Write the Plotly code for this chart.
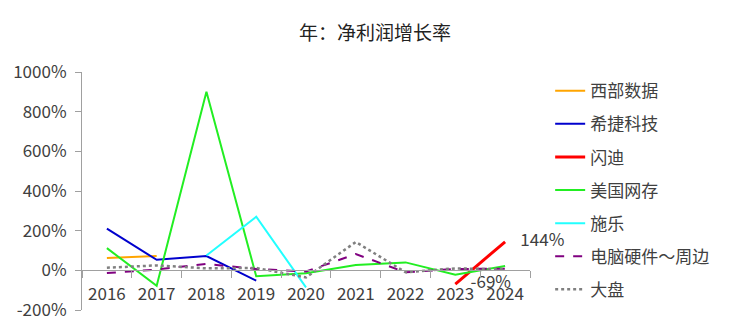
import plotly.graph_objects as go

years = ["2016", "2017", "2018", "2019", "2020", "2021", "2022", "2023", "2024"]

wdc = [62, 72, None, None, None, None, None, None, None]
seagate = [210, 53, 72, -52, None, None, None, None, None]
sandisk = [None, None, None, None, None, None, None, -69, 144]
netapp = [112, -78, 900, -30, -15, 27, 40, -22, 22]
schiller = [None, None, 75, 270, -86, None, None, None, None]
pc_periph = [-14, 4, 32, 7, -6, 82, -10, 7, 8]
market = [13, 25, 10, 12, -36, 143, -10, 10, 5]

y_ticks = [-200, 0, 200, 400, 600, 800, 1000]

series = [
    ("西部数据", wdc, "#FFA500", "solid", 2),
    ("希捷科技", seagate, "#0000CD", "solid", 2),
    ("闪迪", sandisk, "#FF0000", "solid", 3),
    ("美国网存", netapp, "#22EE22", "solid", 2),
    ("施乐", schiller, "#22FFFF", "solid", 2),
    ("电脑硬件～周边", pc_periph, "#800080", "dash", 2),
    ("大盘", market, "#808080", "dot", 2.5),
]

font_family = "Noto Sans CJK SC, Noto Sans, sans-serif"
text_color = "#404040"

fig = go.Figure()
for i, (name, vals, color, dash, w) in enumerate(series):
    fig.add_trace(go.Scatter(
        x=years, y=vals, name=name, mode="lines",
        line=dict(color=color, dash=dash, width=w),
        legendgroup=f"g{i}", connectgaps=False,
    ))

# data labels for 闪迪
fig.add_trace(go.Scatter(
    x=years, y=sandisk, mode="text", showlegend=False, hoverinfo="skip",
    text=[("    " + f"{v}%") if v is not None else "" for v in sandisk],
    textposition="middle right", cliponaxis=False,
    textfont=dict(size=17, color=text_color, family=font_family),
))

fig.update_layout(
    width=750, height=333,
    margin=dict(l=82, r=220, t=72, b=20),
    paper_bgcolor="white", plot_bgcolor="white",
    title=dict(text="年：净利润增长率", x=0.5, xanchor="center", y=0.9, yanchor="middle",
               font=dict(size=19, color="#222", family=font_family)),
    font=dict(family=font_family, color=text_color),
    legend=dict(x=1.045, y=0.995, xanchor="left", yanchor="top",
                font=dict(size=17, color=text_color, family=font_family),
                tracegroupgap=8, bgcolor="rgba(0,0,0,0)", maxheight=400),
    showlegend=True,
)

fig.update_xaxes(
    type="category", categoryorder="array", categoryarray=years,
    anchor="free", position=200 / 1200,
    showline=True, linecolor="#A0A0A0", linewidth=1,
    ticks="outside", tickson="boundaries", ticklen=7, tickcolor="#A0A0A0",
    showgrid=False, zeroline=False, ticklabelstandoff=8,
    tickfont=dict(size=17, color=text_color, family=font_family),
    range=[-0.5, 8.5],
)
fig.update_yaxes(
    range=[-200, 1000], tickvals=y_ticks, ticktext=[f"{v}%" for v in y_ticks],
    showline=True, linecolor="#A0A0A0", linewidth=1,
    ticks="outside", ticklen=6, tickcolor="#A0A0A0",
    showgrid=False, zeroline=False, ticklabelstandoff=5,
    tickfont=dict(size=17, color=text_color, family=font_family),
)

fig.write_html("out.html")
